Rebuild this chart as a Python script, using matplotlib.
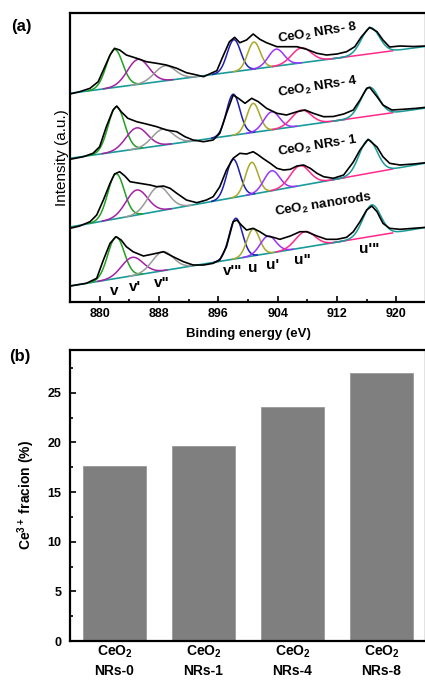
import numpy as np
import matplotlib
matplotlib.use("Agg")
import matplotlib.pyplot as plt
from matplotlib.ticker import MultipleLocator

plt.rcParams['font.family'] = ['Liberation Sans', 'DejaVu Sans']
plt.rcParams['mathtext.default'] = 'regular'

# ---------------- panel (a): Ce 3d XPS, intensity in a.u. ----------------
samples = ['CeO$_2$ NRs- 8', 'CeO$_2$ NRs- 4', 'CeO$_2$ NRs- 1', 'CeO$_2$ nanorods']

nrs8_ev = [876.0, 877.3, 878.7, 879.8, 880.7, 881.4, 882.0, 882.7, 883.6, 885.0,
           886.3, 887.7, 889.0, 890.4, 891.7, 893.1, 894.0, 894.8, 895.8, 896.6,
           897.5, 898.2, 898.9, 899.8, 900.7, 901.6, 902.5, 903.9, 905.2, 906.6,
           907.9, 909.3, 910.6, 912.0, 913.3, 914.4, 915.3, 916.4, 917.4, 918.2,
           919.1, 920.5, 922.3, 924.0]
nrs8_int = [208.0, 210.3, 213.7, 220.3, 235.3, 247.0, 253.7, 252.0, 247.0, 243.7,
            240.3, 238.7, 237.0, 233.7, 229.3, 227.0, 225.3, 228.0, 231.3, 245.3,
            260.3, 264.7, 259.3, 262.0, 268.0, 262.7, 259.3, 255.3, 255.3, 255.3,
            252.7, 248.7, 247.0, 248.0, 250.3, 255.3, 265.3, 274.7, 270.3, 262.0,
            255.0, 256.0, 255.5, 256.0]

nrs4_ev = [876.0, 877.8, 879.1, 880.0, 880.9, 881.8, 882.3, 882.9, 883.8, 885.0,
           886.3, 887.7, 889.0, 890.4, 891.5, 892.6, 894.0, 895.3, 896.2, 897.1,
           898.0, 898.7, 899.6, 900.5, 901.4, 902.5, 903.9, 905.2, 906.6, 907.7,
           908.8, 910.2, 911.5, 912.9, 914.2, 915.1, 916.0, 916.4, 917.4, 918.2,
           919.4, 920.9, 922.7, 924.0]
nrs4_int = [142.7, 145.3, 148.7, 155.3, 175.3, 192.0, 196.0, 190.3, 183.7, 180.3,
            178.0, 175.3, 172.0, 170.3, 165.3, 162.0, 160.3, 162.0, 168.7, 188.7,
            207.0, 203.7, 198.7, 203.7, 200.3, 193.7, 188.7, 187.0, 190.3, 192.0,
            188.7, 185.3, 185.5, 188.0, 192.0, 202.0, 213.7, 214.7, 205.3, 197.0,
            192.0, 192.7, 193.7, 194.7]

nrs1_ev = [876.0, 877.3, 878.7, 879.6, 880.5, 881.4, 882.0, 882.7, 883.4, 884.1,
           885.4, 886.8, 887.7, 888.6, 889.5, 890.4, 891.7, 893.1, 894.4, 895.3,
           896.2, 897.1, 898.0, 898.9, 899.8, 900.7, 901.4, 902.0, 903.0, 903.9,
           904.8, 905.7, 906.6, 907.5, 908.4, 909.3, 910.2, 911.5, 912.9, 914.2,
           915.1, 916.2, 917.4, 918.2, 919.1, 920.5, 922.3, 924.0]
nrs1_int = [73.7, 76.0, 80.3, 87.0, 102.0, 118.7, 128.0, 130.3, 126.0, 120.3,
            118.7, 117.0, 115.3, 116.0, 113.7, 108.7, 102.0, 99.3, 102.0, 105.3,
            115.3, 132.0, 143.7, 148.7, 148.0, 150.3, 147.0, 143.7, 138.7, 133.7,
            132.0, 132.7, 136.0, 137.0, 133.7, 128.7, 125.3, 123.7, 127.0, 140.0,
            152.0, 162.7, 155.0, 145.3, 138.7, 137.0, 138.0, 139.3]

rods_ev = [876.0, 878.2, 879.6, 880.5, 881.4, 882.2, 882.9, 883.6, 884.5, 885.9,
           887.2, 888.6, 889.9, 891.3, 892.6, 894.0, 895.3, 896.2, 897.1, 898.0,
           898.5, 899.1, 899.8, 900.7, 901.6, 902.5, 903.4, 904.3, 905.7, 907.0,
           907.9, 909.3, 910.6, 912.0, 913.3, 914.2, 915.1, 916.0, 916.7, 917.4,
           918.2, 919.1, 920.5, 922.3, 924.0]
rods_int = [16.0, 18.7, 23.7, 42.0, 58.7, 65.3, 62.0, 55.3, 50.3, 46.0,
            48.0, 50.3, 45.3, 40.3, 37.0, 37.0, 38.7, 42.0, 55.3, 80.3,
            82.0, 77.0, 72.0, 73.7, 70.3, 66.0, 64.7, 62.7, 66.0, 70.3,
            70.3, 66.0, 62.7, 62.7, 64.7, 70.3, 80.3, 92.0, 96.0, 90.3,
            78.7, 73.7, 72.7, 73.7, 74.7]

# linear background at 876 and 924 eV
base_left = [208.7, 143.7, 75.0, 16.0]
base_right = [255.6, 194.0, 139.0, 74.6]

# fitted components: v, v', v'', v''', u, u', u'', u'''
peak_names = ["v", "v'", 'v"', "v'\"", "u", "u'", 'u"', "u'\""]
peak_colors = ['#22a022', '#a322a3', '#9a9a9a', '#1e1eb0',
               '#a8a82a', '#9a33ff', '#ff2a8c', '#1a9a9a']
peak_sigma = [1.1, 1.45, 1.4, 0.9, 0.85, 1.05, 1.3, 1.2]
nrs8_pos = [882.0, 885.2, 888.8, 898.1, 900.8, 903.8, 907.2, 916.5]
nrs8_amp = [38.0, 25.0, 15.0, 32.0, 27.0, 17.0, 15.0, 26.0]
nrs4_pos = [882.25, 885.0, 888.5, 898.0, 900.7, 903.2, 907.2, 916.4]
nrs4_amp = [45.0, 21.0, 16.0, 41.0, 29.0, 18.0, 15.5, 28.6]
nrs1_pos = [882.2, 885.0, 887.9, 898.0, 900.5, 903.2, 907.0, 916.2]
nrs1_amp = [45.0, 25.0, 24.5, 38.4, 32.0, 20.0, 20.0, 33.5]
rods_pos = [882.2, 884.4, 888.5, 898.35, 900.7, 902.7, 907.7, 916.7]
rods_amp = [41.5, 18.4, 19.0, 40.4, 26.9, 17.4, 15.7, 31.4]

label_ev = [882.0, 884.7, 888.4, 897.9, 900.6, 903.3, 907.4, 916.4]

# ---------------- panel (b): Ce3+ fraction ----------------
bar_labels = ['CeO$_2$\nNRs-0', 'CeO$_2$\nNRs-1', 'CeO$_2$\nNRs-4', 'CeO$_2$\nNRs-8']
ce3_fraction = [17.6, 19.6, 23.6, 27.0]

fig = plt.figure(figsize=(4.25, 6.81), dpi=100)
ax1 = fig.add_axes([0.1647, 0.5565, 0.8376, 0.4244])
ax2 = fig.add_axes([0.1647, 0.0587, 0.8376, 0.4273])

E0, E1 = 876.0, 924.0
teal = '#1a9a9a'

spectra = [(nrs8_ev, nrs8_int, nrs8_pos, nrs8_amp),
           (nrs4_ev, nrs4_int, nrs4_pos, nrs4_amp),
           (nrs1_ev, nrs1_int, nrs1_pos, nrs1_amp),
           (rods_ev, rods_int, rods_pos, rods_amp)]

for k, (ev, inten, pos, amp) in enumerate(spectra):
    def bg(e, k=k):
        return base_left[k] + (base_right[k] - base_left[k]) * (e - E0) / (E1 - E0)
    # background up to the u''' region
    eb = np.array([E0, 913.0])
    ax1.plot(eb, bg(eb), color=teal, lw=1.2, zorder=2)
    for j in range(8):
        c, a, s = pos[j], amp[j], peak_sigma[j]
        if j == 6:
            e = np.linspace(c - 3.0 * s, 919.5, 120)
        elif j == 7:
            e = np.linspace(911.5, E1, 120)
        else:
            e = np.linspace(c - 3.2 * s, c + 3.2 * s, 80)
        y = bg(e) + a * np.exp(-(e - c) ** 2 / (2 * s ** 2))
        ax1.plot(e, y, color=peak_colors[j], lw=1.1, zorder=3 if j != 7 else 4)
    ax1.plot(ev, inten, color='black', lw=1.2, zorder=5)

# sample names
name_xy = [(909.3, 269), (909.4, 215), (909.4, 156), (910.1, 97)]
for k, (x, y) in enumerate(name_xy):
    ax1.text(x, y, samples[k], fontsize=9.5, fontweight='bold', rotation=9,
             ha='center', va='center', zorder=6)

# peak labels under the lowest spectrum
for j in range(8):
    e = label_ev[j]
    yb = base_left[3] + (base_right[3] - base_left[3]) * (e - E0) / (E1 - E0)
    ax1.text(e, yb - 12, peak_names[j], fontsize=11, fontweight='bold',
             ha='center', va='center', zorder=6)

ax1.set_xlim(E0, E1)
ax1.set_ylim(0, 289)
ax1.set_yticks([])
ax1.xaxis.set_major_locator(MultipleLocator(8))
ax1.xaxis.set_minor_locator(MultipleLocator(4))
ax1.tick_params(axis='x', which='both', direction='in', top=False,
                labelsize=9, width=1.2)
ax1.tick_params(axis='x', which='major', length=4.5, pad=4)
ax1.tick_params(axis='x', which='minor', length=2.5)
for lab in ax1.get_xticklabels():
    lab.set_fontweight('bold')
ax1.set_xlabel('Binding energy (eV)', fontsize=9.5, fontweight='bold', labelpad=6)
ax1.set_ylabel('Intensity (a.u.)', fontsize=11, labelpad=1)
for sp in ax1.spines.values():
    sp.set_linewidth(1.6)

# bar chart
xpos = np.arange(len(ce3_fraction))
ax2.bar(xpos, ce3_fraction, width=0.70, color='#7f7f7f', edgecolor='#9a9a9a',
        linewidth=0.6)
ax2.set_xlim(-0.5, 3.5)
ax2.set_ylim(0, 29.3)
ax2.set_xticks(xpos)
ax2.set_xticklabels(bar_labels, fontsize=10, fontweight='bold', linespacing=1.3)
ax2.yaxis.set_major_locator(MultipleLocator(5))
ax2.yaxis.set_minor_locator(MultipleLocator(2.5))
ax2.tick_params(axis='x', length=0, pad=2)
ax2.tick_params(axis='y', which='both', direction='in', labelsize=9, width=1.2)
ax2.tick_params(axis='y', which='major', length=4.5, pad=6)
ax2.tick_params(axis='y', which='minor', length=2.5)
for lab in ax2.get_yticklabels():
    lab.set_fontweight('bold')
ax2.set_ylabel('Ce$^{3+}$ fracion (%)', fontsize=10, fontweight='bold', labelpad=8)
for sp in ax2.spines.values():
    sp.set_linewidth(1.6)

fig.text(21 / 425, 1 - 27 / 681, '(a)', fontsize=12, fontweight='bold',
         ha='center', va='center')
fig.text(20 / 425, 1 - 357 / 681, '(b)', fontsize=12, fontweight='bold',
         ha='center', va='center')

fig.savefig('out.png', dpi=100)
